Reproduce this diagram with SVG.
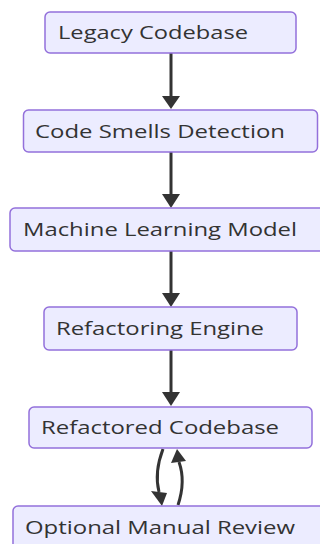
<svg xmlns="http://www.w3.org/2000/svg" width="320" height="544" viewBox="0 0 320 544">
<style>
.node rect{fill:#ECECFF;stroke:#9370DB;stroke-width:1.5}
.node text{font-family:"Open Sans","Noto Sans",sans-serif;font-size:18.5px;fill:#333}
.edge{stroke:#333;stroke-width:3;fill:none}
.head{fill:#333}
</style>
<g id="connectors">
<line class="edge" x1="171" y1="53" x2="171" y2="96"/>
<path class="head" d="M162,96 L180,96 L171,109 Z"/>
<line class="edge" x1="171" y1="152" x2="171" y2="195"/>
<path class="head" d="M162,194 L180,194 L171,208 Z"/>
<line class="edge" x1="171" y1="251" x2="171" y2="294"/>
<path class="head" d="M162,293 L180,293 L171,307 Z"/>
<line class="edge" x1="171" y1="350" x2="171" y2="393"/>
<path class="head" d="M162,392 L180,392 L171,406 Z"/>
<path class="edge" d="M163,449 C158,462 155,476 159,492"/>
<path class="head" d="M151,491 L167,493 L162,506 Z"/>
<path class="edge" d="M178,505 C183,490 184,476 179,462"/>
<path class="head" d="M171,463 L186,461 L177,449 Z"/>
</g>
<g id="n1" class="node"><rect x="45" y="12" width="251" height="41" rx="5"/><text x="58" y="39" textLength="190" lengthAdjust="spacingAndGlyphs">Legacy Codebase</text></g>
<g id="n2" class="node"><rect x="23.5" y="110" width="294" height="42" rx="5"/><text x="35" y="137.5" textLength="250" lengthAdjust="spacingAndGlyphs">Code Smells Detection</text></g>
<g id="n3" class="node"><rect x="10" y="208" width="321" height="43" rx="5"/><text x="23" y="236" textLength="274" lengthAdjust="spacingAndGlyphs">Machine Learning Model</text></g>
<g id="n4" class="node"><rect x="44" y="307" width="253" height="43" rx="5"/><text x="56" y="335" textLength="208" lengthAdjust="spacingAndGlyphs">Refactoring Engine</text></g>
<g id="n5" class="node"><rect x="29" y="407" width="283" height="41" rx="5"/><text x="41" y="434" textLength="238" lengthAdjust="spacingAndGlyphs">Refactored Codebase</text></g>
<g id="n6" class="node"><rect x="13" y="506" width="315" height="43" rx="5"/><text x="25" y="534" textLength="270" lengthAdjust="spacingAndGlyphs">Optional Manual Review</text></g>
</svg>
